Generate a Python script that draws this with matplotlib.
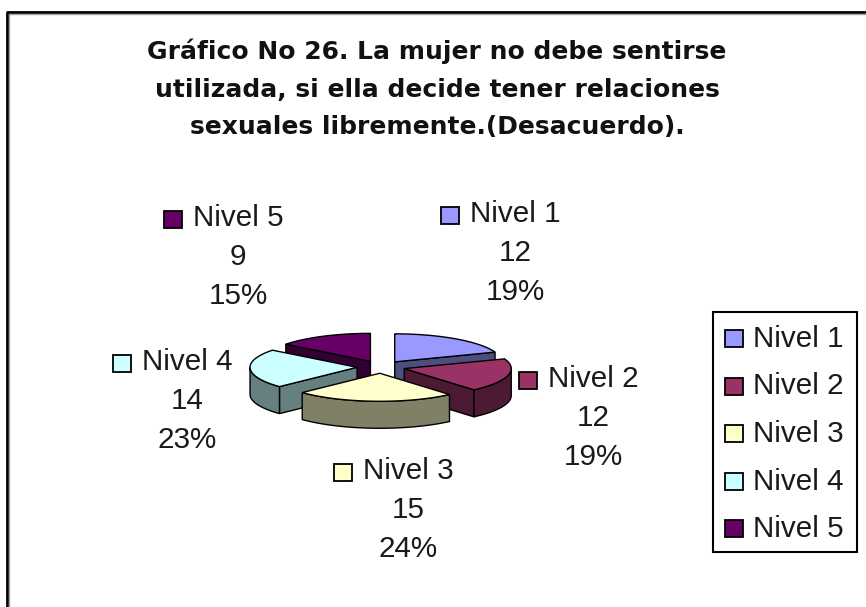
import numpy as np
import matplotlib
matplotlib.use("Agg")
from matplotlib import pyplot as plt
from matplotlib.patches import Polygon, Rectangle

labels = ["Nivel 1", "Nivel 2", "Nivel 3", "Nivel 4", "Nivel 5"]
values = [12, 12, 15, 14, 9]
top_colors = ["#9999FF", "#993366", "#FFFFCC", "#CCFFFF", "#660066"]
side_colors = ["#4D4D80", "#4D1A33", "#808066", "#668080", "#330033"]
title = "Gráfico No 26. La mujer no debe sentirse\nutilizada, si ella decide tener relaciones\nsexuales libremente.(Desacuerdo)."

# where the data labels sit (pixel coords, centre of the value line)
label_pos = [(515, 253), (593, 418), (408, 510), (187, 401), (238, 257)]

W, H = 866, 607
fig = plt.figure(figsize=(W / 100, H / 100), dpi=100)
ax = fig.add_axes([0, 0, 1, 1])
ax.set_xlim(0, W)
ax.set_ylim(H, 0)
ax.axis("off")

# outer frame
ax.plot([7, 7, W + 5], [H + 5, 12, 12], color="black", lw=2, solid_capstyle="butt")
ax.plot([9, 9, W + 5], [H + 5, 14, 14], color="#A0A0A0", lw=1)

ax.text(437, 89, title, ha="center", va="center", fontsize=18, fontweight="bold",
        family="DejaVu Sans", linespacing=1.7, color="#111111")

# 3d pie geometry
cx, cy = 381, 367
R, r = 107, 28
depth = 27
expl = 24
ey = expl * r / R

total = sum(values)
frac = np.array(values) / total
ends = 90 - np.cumsum(frac) * 360
starts = np.concatenate([[90], ends[:-1]])


def pt(t, ox, oy, dz=0):
    return cx + ox + R * np.cos(t), cy + oy - r * np.sin(t) + dz


mids = np.radians((starts + ends) / 2)
order = np.argsort(-np.sin(mids))

for i in order:
    a0, a1 = np.radians(starts[i]), np.radians(ends[i])
    m = mids[i]
    ox, oy = expl * np.cos(m), -ey * np.sin(m)
    c0 = (cx + ox, cy + oy)
    # radial faces
    faces = []
    if np.cos(a0) < -1e-6:
        faces.append(a0)
    if np.cos(a1) > 1e-6:
        faces.append(a1)
    for a in faces:
        ex, ey_ = pt(a, ox, oy)
        poly = [c0, (ex, ey_), (ex, ey_ + depth), (c0[0], c0[1] + depth)]
        ax.add_patch(Polygon(poly, closed=True, fc=side_colors[i], ec="black", lw=1, zorder=2))
    # outer wall on the front half
    ts = np.linspace(a1, a0, 200)
    vis = np.sin(ts) < 0
    if vis.any():
        idx = np.where(vis)[0]
        segs = np.split(idx, np.where(np.diff(idx) > 1)[0] + 1)
        for sg in segs:
            tt = ts[sg]
            xs, ys = pt(tt, ox, oy)
            poly = list(zip(xs, ys)) + list(zip(xs[::-1], ys[::-1] + depth))
            ax.add_patch(Polygon(poly, closed=True, fc=side_colors[i], ec="black", lw=1, zorder=2))
    # top face
    tt = np.linspace(a0, a1, 200)
    xs, ys = pt(tt, ox, oy)
    poly = [c0] + list(zip(xs, ys))
    ax.add_patch(Polygon(poly, closed=True, fc=top_colors[i], ec="black", lw=1, zorder=2))

# data labels
fs = 21.3
renderer = fig.canvas.get_renderer()
for i, (lx, ly) in enumerate(label_pos):
    pct = round(frac[i] * 100)
    txt = f"{labels[i]}\n{values[i]}\n{pct}%"
    ax.text(lx, ly, txt, ha="center", va="center", fontsize=fs,
            family="Liberation Sans", color="#1A1A1A", linespacing=1.5, zorder=3)
    # key square left of the first line
    wtxt = ax.text(0, 0, labels[i], fontsize=fs, family="Liberation Sans")
    first_w = wtxt.get_window_extent(renderer=renderer).width
    wtxt.remove()
    sx = lx - first_w / 2 - 29
    sy = ly - 38 - 8
    ax.add_patch(Rectangle((sx, sy), 18, 17, fc=top_colors[i], ec="black", lw=1.3, zorder=3))

# legend
ax.add_patch(Rectangle((713, 312), 144, 240, fc="white", ec="black", lw=1.5, zorder=3))
for i, lab in enumerate(labels):
    yy = 339 + i * 47.5
    ax.add_patch(Rectangle((725, yy - 9), 18, 17, fc=top_colors[i], ec="black", lw=1.3, zorder=4))
    ax.text(753, yy, lab, ha="left", va="center", fontsize=fs, family="Liberation Sans",
            color="#1A1A1A", zorder=4)

fig.savefig("out.png", dpi=100)
